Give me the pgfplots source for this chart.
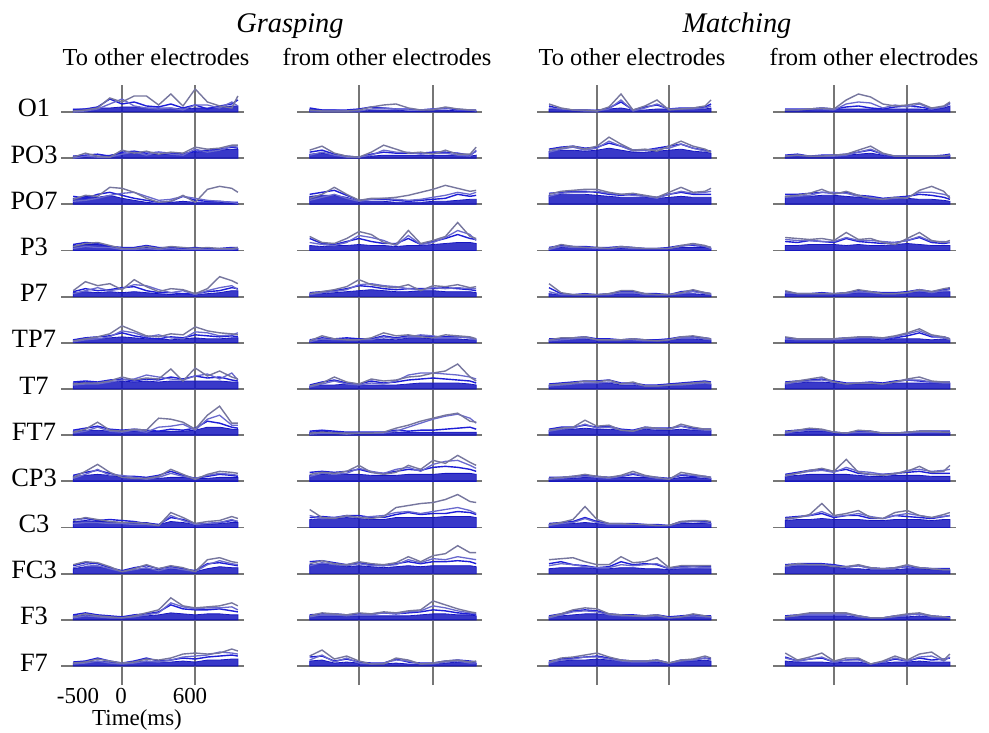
\documentclass[border=0pt]{standalone}
\usepackage{fontspec}
\setmainfont{Liberation Serif}
\usepackage{pgfplots}
\usepackage{pgfplotstable}
\pgfplotsset{compat=1.18}
\definecolor{dblue}{RGB}{22,22,192}
\definecolor{mblue}{RGB}{30,30,215}
\definecolor{gblue}{RGB}{118,118,158}
\definecolor{lblue}{RGB}{105,105,205}
\definecolor{gridgray}{RGB}{118,118,118}
\pgfplotsset{
  panel/.style={scale only axis, height=46.17bp, xmin=-500, xmax=1000,
    ymin=-23.085, ymax=23.085, anchor=origin,
    axis line style={draw=none}, xtick={0,600}, xticklabels={}, ytick=\empty,
    major tick length=0pt, xmajorgrids,
    extra y ticks={0}, extra y tick labels={}, extra y tick style={grid=major, major tick length=0pt},
    grid style={draw=gridgray, line width=1.9bp}, clip=false, no markers},
  rowtop/.style={ymax=27, height=50.085bp},
  rowmid/.style={},
  rowbot/.style={ymin=-19, height=42.085bp},
  areaS/.style={fill=dblue, draw=dblue, line width=0.8bp, fill opacity=0.85},
  lineB/.style={draw=mblue, line width=1.4bp},
  lineD/.style={draw=lblue, line width=1.3bp},
  lineC/.style={draw=gblue, line width=1.4bp},
}
\newcommand\panel[5]{%
\begin{axis}[panel,at={(#1bp,#2bp)},width=#3bp,#5]
\addplot[areaS] table[x=t,y=a]{#4}\closedcycle;
\addplot[lineB] table[x=t,y=b]{#4};
\addplot[lineD] table[x=t,y=d]{#4};
\addplot[lineC] table[x=t,y=c]{#4};
\end{axis}}
% ---------------- Grasping: to other electrodes ----------------
\pgfplotstableread{
t a b c d
-400 3 2 1 0
-300 3 3 2 1
-200 4 5 4 3
-100 4 13 14 8
0 5 8 10 13
100 5 10 16 6
200 4 6 16 4
300 4 5 7 3
400 4 8 18 4
500 3 4 6 2
600 4 7 23 7
700 4 3 10 7
800 5 6 6 4
900 6 8 4 10
950 6 12 16 6
}\tAa
\pgfplotstableread{
t a b c d
-400 2 2 1 0
-300 2 3 5 2
-200 2 4 2 1
-100 3 2 1 1
0 5 6 8 4
100 5 7 5 6
200 4 5 7 3
300 4 6 4 6
400 4 5 6 4
500 5 4 5 3
600 6 7 11 9
700 7 8 9 6
800 8 9 10 8
900 9 11 13 12
950 9 10 13 11
}\tAb
\pgfplotstableread{
t a b c d
-400 6 8 5 3
-300 8 6 9 4
-200 7 10 8 6
-100 9 12 17 9
0 6 9 16 11
100 4 6 12 12
200 2 4 6 8
300 1 2 2 4
400 2 3 3 5
500 3 8 9 8
600 2 4 2 6
700 2 3 15 4
800 2 3 18 3
900 1 2 16 2
950 1 2 12 1
}\tAc
\pgfplotstableread{
t a b c d
-400 5 6 4 2
-300 6 8 7 4
-200 6 7 8 3
-100 4 4 5 3
0 3 3 2 1
100 2 3 2 1
200 3 5 4 2
300 2 3 2 1
400 3 3 4 2
500 2 2 3 1
600 2 3 2 1
700 2 2 3 1
800 2 2 2 1
900 2 3 2 1
950 2 3 3 2
}\tAd
\pgfplotstableread{
t a b c d
-400 4 5 6 3
-300 5 8 15 6
-200 4 6 11 9
-100 5 7 13 6
0 4 9 7 8
100 5 10 17 12
200 4 6 10 11
300 3 4 5 7
400 2 4 8 4
500 3 3 7 6
600 2 3 3 2
700 3 5 8 6
800 4 6 20 9
900 6 9 16 11
950 6 8 13 7
}\tAe
\pgfplotstableread{
t a b c d
-400 3 3 2 1
-300 4 5 4 3
-200 4 6 6 4
-100 5 7 9 6
0 6 10 17 12
100 5 7 12 10
200 4 5 7 6
300 4 4 6 8
400 3 6 9 5
500 4 5 8 4
600 5 8 16 11
700 4 7 12 10
800 4 6 10 7
900 5 7 9 8
950 5 6 8 10
}\tAf
\pgfplotstableread{
t a b c d
-400 6 7 5 4
-300 7 8 6 5
-200 6 7 6 5
-100 7 9 8 7
0 8 10 12 9
100 7 8 9 10
200 8 10 11 14
300 7 9 10 12
400 8 12 20 10
500 8 10 8 9
600 8 13 21 13
700 8 11 13 15
800 8 12 18 10
900 7 9 12 16
950 7 8 10 9
}\tAg
\pgfplotstableread{
t a b c d
-400 4 5 3 2
-300 5 7 6 4
-200 5 9 13 8
-100 4 6 5 4
0 4 5 4 3
100 4 6 6 5
200 4 5 5 3
300 4 4 17 8
400 4 6 16 9
500 4 5 13 11
600 5 7 6 5
700 8 14 20 16
800 8 12 29 20
900 6 8 12 10
950 6 7 12 10
}\tAh
\pgfplotstableread{
t a b c d
-400 5 6 4 3
-300 6 9 10 7
-200 7 11 17 12
-100 6 8 9 6
0 4 5 4 6
100 3 5 3 4
200 3 4 3 2
300 3 6 5 4
400 4 10 12 8
500 4 6 7 5
600 3 3 2 3
700 3 5 7 6
800 4 7 10 8
900 4 6 9 7
950 4 5 8 6
}\tAi
\pgfplotstableread{
t a b c d
-400 6 8 7 4
-300 7 9 10 5
-200 6 7 8 5
-100 6 8 6 4
0 5 7 5 4
100 5 6 5 3
200 5 4 4 3
300 3 3 2 2
400 6 10 15 12
500 5 8 10 7
600 3 4 4 3
700 3 4 6 4
800 4 5 7 5
900 5 7 11 8
950 5 6 9 6
}\tAj
\pgfplotstableread{
t a b c d
-400 5 8 9 6
-300 7 11 12 9
-200 7 10 11 8
-100 5 6 7 5
0 3 3 2 2
100 4 6 5 4
200 5 8 9 6
300 4 5 5 3
400 5 7 8 6
500 4 5 6 4
600 2 3 2 2
700 5 10 14 9
800 7 11 16 13
900 6 9 12 10
950 6 8 11 9
}\tAk
\pgfplotstableread{
t a b c d
-400 4 5 3 2
-300 5 7 6 4
-200 4 5 4 3
-100 3 4 3 2
0 3 3 2 2
100 4 5 4 3
200 4 6 7 5
300 5 8 10 7
400 7 15 22 17
500 6 11 14 13
600 5 10 12 11
700 6 10 13 12
800 6 11 14 12
900 5 9 17 13
950 5 8 14 10
}\tAl
\pgfplotstableread{
t a b c d
-400 3 4 3 2
-300 4 5 4 3
-200 5 8 7 5
-100 4 5 5 3
0 3 3 3 2
100 4 5 4 3
200 5 8 7 5
300 4 5 6 4
400 4 6 8 6
500 5 8 12 9
600 4 7 13 10
700 6 9 12 11
800 6 10 13 14
900 7 11 17 13
950 7 10 15 12
}\tAm
% ---------------- Grasping: from other electrodes ----------------
\pgfplotstableread{
t a b c d
-400 3 4 2 1
-300 2 2 1 1
-200 2 2 1 1
-100 1 2 1 1
0 1 3 2 1
100 2 5 5 3
200 2 4 7 4
300 2 3 8 3
400 1 3 4 2
500 1 2 2 2
600 2 3 2 3
700 2 4 5 4
800 1 2 3 3
900 1 2 2 2
950 1 2 2 1
}\tBa
\pgfplotstableread{
t a b c d
-400 4 6 8 3
-300 5 8 12 6
-200 3 4 5 3
-100 1 2 2 1
0 1 1 1 1
100 2 4 6 3
200 3 6 13 8
300 3 5 9 6
400 3 5 5 6
500 3 5 6 4
600 3 6 4 5
700 3 6 8 5
800 3 5 4 3
900 2 3 4 2
950 3 7 11 8
}\tBb
\pgfplotstableread{
t a b c d
-400 8 10 6 4
-300 9 12 10 7
-200 9 14 17 10
-100 7 9 10 6
0 3 4 4 3
100 3 5 6 5
200 3 5 6 6
300 2 4 7 5
400 2 3 9 4
500 2 4 12 5
600 3 5 15 7
700 3 6 19 9
800 4 10 16 12
900 5 8 13 10
950 5 9 14 12
}\tBc
\pgfplotstableread{
t a b c d
-400 5 12 14 8
-300 4 7 8 6
-200 5 6 7 5
-100 5 9 12 8
0 6 12 19 15
100 5 9 16 13
200 5 7 8 10
300 4 7 6 5
400 5 12 20 15
500 5 6 7 6
600 6 9 10 8
700 7 12 14 13
800 8 16 28 20
900 8 12 14 16
950 7 11 12 10
}\tBd
\pgfplotstableread{
t a b c d
-400 3 4 3 2
-300 3 5 5 4
-200 4 6 7 5
-100 5 8 10 7
0 6 11 17 12
100 7 10 12 13
200 6 8 10 11
300 5 7 9 10
400 5 8 12 8
500 6 8 6 7
600 6 8 11 9
700 5 9 10 8
800 5 8 12 9
900 5 7 9 8
950 4 6 10 8
}\tBe
\pgfplotstableread{
t a b c d
-400 2 3 2 1
-300 3 5 7 4
-200 3 4 4 3
-100 4 5 3 3
0 3 4 3 3
100 3 4 5 3
200 4 7 10 6
300 3 5 7 4
400 5 7 8 6
500 5 7 6 8
600 4 6 5 7
700 4 6 8 5
800 4 6 7 6
900 3 5 6 5
950 3 4 4 3
}\tBf
\pgfplotstableread{
t a b c d
-400 3 4 3 2
-300 4 7 6 5
-200 4 9 12 8
-100 5 6 7 5
0 4 5 5 4
100 4 8 10 6
200 4 6 8 5
300 4 7 9 8
400 5 9 12 14
500 6 10 13 16
600 6 11 16 16
700 6 10 18 15
800 6 9 25 14
900 5 8 12 12
950 4 6 8 10
}\tBg
\pgfplotstableread{
t a b c d
-400 3 4 2 1
-300 4 5 3 2
-200 3 4 2 2
-100 2 3 2 1
0 2 3 2 2
100 2 3 2 2
200 2 3 3 2
300 3 5 7 4
400 3 4 10 8
500 3 5 14 12
600 3 5 17 16
700 3 6 20 19
800 3 7 22 21
900 3 8 14 17
950 3 6 13 12
}\tBh
\pgfplotstableread{
t a b c d
-400 6 9 7 5
-300 7 10 9 8
-200 7 9 8 7
-100 7 10 10 8
0 7 12 16 13
100 6 9 9 10
200 6 8 7 8
300 6 10 9 12
400 7 12 16 14
500 7 11 12 10
600 7 14 21 17
700 8 15 18 20
800 8 14 26 21
900 8 12 19 16
950 7 10 16 13
}\tBi
\pgfplotstableread{
t a b c d
-400 8 10 18 12
-300 9 11 10 9
-200 9 10 9 10
-100 10 12 12 11
0 9 12 10 10
100 8 10 9 11
200 8 10 11 12
300 10 13 20 15
400 10 15 22 16
500 10 13 24 14
600 10 14 25 16
700 11 14 28 18
800 11 16 33 20
900 11 15 26 17
950 10 13 25 14
}\tBj
\pgfplotstableread{
t a b c d
-400 9 12 10 8
-300 10 13 13 11
-200 9 11 10 9
-100 7 9 9 8
0 8 11 12 10
100 7 9 10 8
200 6 8 9 8
300 7 10 11 9
400 8 12 17 14
500 7 10 12 11
600 8 12 18 15
700 8 12 20 14
800 8 13 28 17
900 8 12 21 15
950 7 10 21 14
}\tBk
\pgfplotstableread{
t a b c d
-400 4 5 4 3
-300 4 6 7 5
-200 4 6 6 5
-100 4 5 5 4
0 4 6 7 5
100 4 6 6 5
200 4 7 8 7
300 4 6 7 6
400 4 7 9 8
500 5 8 10 9
600 6 10 19 14
700 6 9 15 12
800 5 7 11 9
900 5 6 8 7
950 4 5 7 6
}\tBl
\pgfplotstableread{
t a b c d
-400 5 9 10 6
-300 6 10 16 11
-200 3 5 7 4
-100 4 7 10 8
0 3 4 5 3
100 2 3 2 2
200 2 3 2 3
300 3 7 8 6
400 2 4 6 5
500 2 3 2 2
600 2 3 3 2
700 3 5 5 4
800 4 6 6 5
900 4 5 4 3
950 3 4 5 3
}\tBm
% ---------------- Matching: to other electrodes ----------------
\pgfplotstableread{
t a b c d
-400 3 6 8 4
-300 3 3 4 3
-200 2 2 2 2
-100 2 2 2 1
0 2 1 1 1
100 3 4 5 3
200 4 10 18 12
300 2 2 2 1
400 2 5 6 4
500 3 7 12 8
600 3 3 2 3
700 3 4 3 3
800 3 4 4 3
900 3 5 6 4
950 4 8 12 6
}\tCa
\pgfplotstableread{
t a b c d
-400 7 9 8 6
-300 8 11 10 9
-200 8 12 12 11
-100 7 10 9 8
0 8 11 12 10
100 10 15 21 17
200 8 12 14 12
300 6 8 8 7
400 6 8 9 8
500 7 10 7 9
600 8 12 12 10
700 9 14 17 14
800 7 10 12 10
900 6 8 9 7
950 5 7 6 6
}\tCb
\pgfplotstableread{
t a b c d
-400 9 11 10 8
-300 10 12 13 11
-200 10 13 14 12
-100 10 13 15 12
0 9 12 15 13
100 8 10 12 11
200 7 9 10 10
300 7 10 11 9
400 7 8 9 8
500 6 7 7 6
600 7 10 12 10
700 8 12 17 13
800 7 10 12 11
900 7 10 13 12
950 7 10 16 13
}\tCc
\pgfplotstableread{
t a b c d
-400 2 3 2 1
-300 3 5 6 4
-200 3 4 4 3
-100 3 4 3 3
0 3 3 3 2
100 2 3 2 2
200 2 4 4 3
300 2 3 3 2
400 2 2 2 2
500 2 2 2 2
600 2 3 2 2
700 3 5 5 4
800 3 5 7 6
900 3 4 5 4
950 2 3 3 2
}\tCd
\pgfplotstableread{
t a b c d
-400 3 9 13 5
-300 2 3 4 2
-200 2 2 2 2
-100 2 3 2 2
0 2 2 2 2
100 2 3 3 2
200 3 5 6 4
300 3 5 6 4
400 2 3 3 2
500 2 3 2 2
600 2 2 2 2
700 3 5 4 3
800 3 6 7 5
900 2 4 4 3
950 2 3 3 2
}\tCe
\pgfplotstableread{
t a b c d
-400 3 4 3 2
-300 3 4 5 3
-200 4 5 5 4
-100 4 6 6 5
0 3 4 3 3
100 3 4 3 3
200 3 3 3 3
300 3 4 4 3
400 3 3 3 2
500 2 3 2 2
600 3 4 3 3
700 4 6 6 5
800 4 6 7 5
900 3 5 5 4
950 3 4 4 3
}\tCf
\pgfplotstableread{
t a b c d
-400 4 5 4 3
-300 5 6 5 4
-200 5 7 6 5
-100 6 8 8 6
0 6 8 7 6
100 6 9 9 7
200 4 6 5 5
300 4 6 7 5
400 3 4 3 3
500 3 4 3 3
600 4 5 4 4
700 5 6 5 4
800 5 7 6 5
900 6 8 7 6
950 5 7 6 5
}\tCg
\pgfplotstableread{
t a b c d
-400 5 6 5 4
-300 6 8 7 6
-200 6 8 8 7
-100 7 10 15 11
0 6 8 9 7
100 6 9 10 8
200 5 6 5 5
300 4 5 4 4
400 6 8 8 7
500 5 7 7 6
600 5 7 6 6
700 6 9 11 9
800 5 7 8 6
900 5 6 6 5
950 5 6 6 5
}\tCh
\pgfplotstableread{
t a b c d
-400 3 4 3 2
-300 3 4 4 3
-200 3 5 5 4
-100 4 6 7 5
0 4 5 5 4
100 3 4 4 3
200 4 5 6 5
300 4 7 10 8
400 4 5 6 5
500 3 4 4 3
600 2 3 2 2
700 4 6 9 7
800 4 5 7 6
900 3 5 5 4
950 3 4 4 3
}\tCi
\pgfplotstableread{
t a b c d
-400 3 4 3 2
-300 4 5 5 4
-200 4 6 8 5
-100 5 10 21 9
0 4 6 8 5
100 3 4 4 3
200 3 4 4 3
300 3 4 3 3
400 3 3 3 3
500 2 3 2 2
600 2 2 2 2
700 4 6 6 5
800 4 6 7 6
900 4 6 7 5
950 4 5 6 4
}\tCj
\pgfplotstableread{
t a b c d
-400 5 10 14 8
-300 6 12 15 10
-200 6 9 16 9
-100 6 8 12 7
0 5 6 9 6
100 5 7 9 6
200 6 12 17 9
300 6 9 11 8
400 5 10 12 9
500 5 9 16 10
600 4 5 6 5
700 5 7 8 6
800 5 7 8 7
900 5 7 8 6
950 5 7 8 6
}\tCk
\pgfplotstableread{
t a b c d
-400 3 4 3 2
-300 4 6 6 5
-200 5 9 10 8
-100 6 10 12 9
0 6 9 11 8
100 5 6 6 5
200 4 5 5 4
300 4 5 4 4
400 3 4 4 3
500 4 5 5 4
600 3 3 2 2
700 3 4 3 3
800 4 5 6 4
900 3 4 4 3
950 3 4 3 3
}\tCl
\pgfplotstableread{
t a b c d
-400 4 5 4 3
-300 5 7 8 6
-200 6 8 9 7
-100 6 9 11 9
0 7 10 13 9
100 6 8 9 7
200 5 6 6 5
300 4 5 5 4
400 4 5 5 4
500 4 6 6 5
600 3 3 3 3
700 5 6 6 5
800 5 6 7 6
900 6 8 10 8
950 5 7 8 6
}\tCm
% ---------------- Matching: from other electrodes ----------------
\pgfplotstableread{
t a b c d
-400 2 3 2 2
-300 2 3 2 2
-200 2 3 3 3
-100 3 4 4 3
0 3 3 3 2
100 3 5 12 8
200 3 6 18 10
300 3 4 15 9
400 3 3 8 4
500 3 5 6 7
600 3 6 7 5
700 3 5 9 8
800 2 3 4 3
900 4 5 6 5
950 6 9 10 8
}\tDa
\pgfplotstableread{
t a b c d
-400 2 3 2 2
-300 3 4 3 3
-200 2 2 2 2
-100 2 3 2 2
0 3 3 3 2
100 3 4 4 3
200 4 6 8 6
300 5 8 12 9
400 3 4 5 4
500 2 2 2 2
600 2 2 2 2
700 2 2 2 2
800 2 2 2 2
900 2 3 2 2
950 3 4 3 3
}\tDb
\pgfplotstableread{
t a b c d
-400 8 10 8 7
-300 8 10 9 8
-200 8 11 11 9
-100 9 12 15 12
0 9 11 10 12
100 8 12 13 11
200 7 9 9 8
300 6 8 6 7
400 5 6 5 5
500 6 7 7 6
600 6 8 6 7
700 5 10 14 12
800 5 9 18 12
900 4 7 13 10
950 3 5 6 8
}\tDc
\pgfplotstableread{
t a b c d
-400 5 9 13 11
-300 5 8 12 10
-200 6 10 11 10
-100 6 9 12 9
0 6 8 10 9
100 5 12 18 13
200 6 9 11 10
300 5 8 12 10
400 5 7 8 9
500 6 8 6 8
600 7 10 12 10
700 6 13 18 14
800 5 8 10 9
900 5 7 8 9
950 5 8 10 8
}\tDd
\pgfplotstableread{
t a b c d
-400 3 5 6 4
-300 3 3 3 3
-200 3 3 3 3
-100 3 4 3 3
0 3 3 3 3
100 3 4 4 3
200 4 6 7 5
300 4 5 5 4
400 3 4 3 3
500 3 4 3 3
600 4 5 4 4
700 5 7 7 6
800 4 5 5 4
900 5 7 8 6
950 5 8 9 7
}\tDe
\pgfplotstableread{
t a b c d
-400 3 5 6 4
-300 3 4 4 3
-200 3 4 4 3
-100 3 4 4 3
0 3 4 4 3
100 4 5 5 4
200 4 5 6 5
300 4 5 6 5
400 3 4 5 4
500 4 5 7 6
600 4 7 10 9
700 4 10 14 12
800 3 6 8 7
900 4 6 6 5
950 3 4 4 3
}\tDf
\pgfplotstableread{
t a b c d
-400 6 7 6 5
-300 6 8 8 7
-200 7 9 10 8
-100 7 10 12 9
0 6 8 7 7
100 5 6 5 5
200 5 6 6 6
300 5 7 6 6
400 5 6 5 5
500 6 8 7 7
600 6 9 10 9
700 6 8 12 9
800 6 7 8 7
900 6 7 7 6
950 6 7 7 6
}\tDg
\pgfplotstableread{
t a b c d
-400 3 4 3 2
-300 3 5 5 4
-200 4 6 7 5
-100 4 5 6 5
0 3 3 3 3
100 2 2 2 2
200 3 4 5 3
300 3 4 4 3
400 2 2 2 2
500 2 2 2 2
600 2 3 3 2
700 3 4 4 3
800 3 4 4 3
900 3 4 3 3
950 3 4 3 3
}\tDh
\pgfplotstableread{
t a b c d
-400 5 7 6 5
-300 6 9 8 8
-200 7 11 11 10
-100 7 12 13 11
0 7 10 10 9
100 7 12 22 14
200 6 8 9 10
300 5 7 7 9
400 5 7 6 7
500 6 8 8 7
600 6 9 10 11
700 6 10 15 12
800 5 8 9 10
900 5 8 10 11
950 5 8 16 12
}\tDi
\pgfplotstableread{
t a b c d
-400 7 10 9 8
-300 8 11 10 10
-200 8 12 13 12
-100 9 14 24 16
0 8 10 12 11
100 8 12 14 12
200 8 12 17 14
300 7 9 10 11
400 7 9 9 9
500 8 12 15 12
600 8 11 17 14
700 8 10 12 12
800 7 9 10 10
900 8 11 13 11
950 8 12 15 12
}\tDj
\pgfplotstableread{
t a b c d
-400 7 9 8 7
-300 8 10 10 9
-200 8 10 9 9
-100 8 10 9 9
0 7 9 7 8
100 5 7 7 6
200 5 8 9 8
300 4 6 6 5
400 4 5 5 5
500 4 6 6 5
600 5 7 9 8
700 5 6 6 6
800 4 5 5 5
900 4 5 4 4
950 4 5 4 4
}\tDk
\pgfplotstableread{
t a b c d
-400 3 4 3 3
-300 4 5 5 4
-200 4 6 7 6
-100 4 6 7 6
0 4 6 7 6
100 4 6 7 6
200 3 4 4 3
300 2 2 2 2
400 2 2 2 2
500 3 4 4 3
600 3 5 6 5
700 4 6 7 6
800 3 4 4 3
900 3 3 3 3
950 3 3 2 2
}\tDl
\pgfplotstableread{
t a b c d
-400 5 9 13 8
-300 4 5 6 5
-200 4 7 9 7
-100 4 8 13 9
0 3 4 5 4
100 4 6 8 6
200 4 7 8 6
300 2 2 2 2
400 3 4 5 4
500 4 7 10 8
600 4 5 6 5
700 5 8 12 9
800 4 6 14 10
900 4 7 6 5
950 4 8 12 9
}\tDm
\newcommand\fA{\fontsize{24.5}{28}\selectfont}
\newcommand\fK{\fontsize{23}{26}\selectfont}
\newcommand\fT{\fontsize{28.5}{32}\selectfont\itshape}
\newcommand\fR{\fontsize{26.5}{30}\selectfont}
\begin{document}
\begin{tikzpicture}[x=1bp,y=1bp]
\path[use as bounding box] (0,0) rectangle (989,733);
% column A
\panel{122}{621}{183}{\tAa}{rowtop}
\panel{122}{574.83}{183}{\tAb}{rowmid}
\panel{122}{528.66}{183}{\tAc}{rowmid}
\panel{122}{482.49}{183}{\tAd}{rowmid}
\panel{122}{436.32}{183}{\tAe}{rowmid}
\panel{122}{390.15}{183}{\tAf}{rowmid}
\panel{122}{343.98}{183}{\tAg}{rowmid}
\panel{122}{297.81}{183}{\tAh}{rowmid}
\panel{122}{251.64}{183}{\tAi}{rowmid}
\panel{122}{205.47}{183}{\tAj}{rowmid}
\panel{122}{159.3}{183}{\tAk}{rowmid}
\panel{122}{113.13}{183}{\tAl}{rowmid}
\panel{122}{66.96}{183}{\tAm}{rowbot}
% column B
\panel{359}{621}{185}{\tBa}{rowtop}
\panel{359}{574.83}{185}{\tBb}{rowmid}
\panel{359}{528.66}{185}{\tBc}{rowmid}
\panel{359}{482.49}{185}{\tBd}{rowmid}
\panel{359}{436.32}{185}{\tBe}{rowmid}
\panel{359}{390.15}{185}{\tBf}{rowmid}
\panel{359}{343.98}{185}{\tBg}{rowmid}
\panel{359}{297.81}{185}{\tBh}{rowmid}
\panel{359}{251.64}{185}{\tBi}{rowmid}
\panel{359}{205.47}{185}{\tBj}{rowmid}
\panel{359}{159.3}{185}{\tBk}{rowmid}
\panel{359}{113.13}{185}{\tBl}{rowmid}
\panel{359}{66.96}{185}{\tBm}{rowbot}
% column C
\panel{597}{621}{180}{\tCa}{rowtop}
\panel{597}{574.83}{180}{\tCb}{rowmid}
\panel{597}{528.66}{180}{\tCc}{rowmid}
\panel{597}{482.49}{180}{\tCd}{rowmid}
\panel{597}{436.32}{180}{\tCe}{rowmid}
\panel{597}{390.15}{180}{\tCf}{rowmid}
\panel{597}{343.98}{180}{\tCg}{rowmid}
\panel{597}{297.81}{180}{\tCh}{rowmid}
\panel{597}{251.64}{180}{\tCi}{rowmid}
\panel{597}{205.47}{180}{\tCj}{rowmid}
\panel{597}{159.3}{180}{\tCk}{rowmid}
\panel{597}{113.13}{180}{\tCl}{rowmid}
\panel{597}{66.96}{180}{\tCm}{rowbot}
% column D
\panel{834}{621}{183}{\tDa}{rowtop}
\panel{834}{574.83}{183}{\tDb}{rowmid}
\panel{834}{528.66}{183}{\tDc}{rowmid}
\panel{834}{482.49}{183}{\tDd}{rowmid}
\panel{834}{436.32}{183}{\tDe}{rowmid}
\panel{834}{390.15}{183}{\tDf}{rowmid}
\panel{834}{343.98}{183}{\tDg}{rowmid}
\panel{834}{297.81}{183}{\tDh}{rowmid}
\panel{834}{251.64}{183}{\tDi}{rowmid}
\panel{834}{205.47}{183}{\tDj}{rowmid}
\panel{834}{159.3}{183}{\tDk}{rowmid}
\panel{834}{113.13}{183}{\tDl}{rowmid}
\panel{834}{66.96}{183}{\tDm}{rowbot}
% titles
\node[anchor=base, inner sep=0, font=\fT] at (290,700) {Grasping};
\node[anchor=base, inner sep=0, font=\fT] at (737,700) {Matching};
\node[anchor=base, inner sep=0, font=\fA] at (156,667) {To other electrodes};
\node[anchor=base, inner sep=0, font=\fA] at (387,667) {from other electrodes};
\node[anchor=base, inner sep=0, font=\fA] at (632,667) {To other electrodes};
\node[anchor=base, inner sep=0, font=\fA] at (874,667) {from other electrodes};
% row labels
\node[anchor=base, inner sep=0, font=\fR] at (34,616) {O1};
\node[anchor=base, inner sep=0, font=\fR] at (34,569.83) {PO3};
\node[anchor=base, inner sep=0, font=\fR] at (34,523.66) {PO7};
\node[anchor=base, inner sep=0, font=\fR] at (34,477.49) {P3};
\node[anchor=base, inner sep=0, font=\fR] at (34,431.32) {P7};
\node[anchor=base, inner sep=0, font=\fR] at (34,385.15) {TP7};
\node[anchor=base, inner sep=0, font=\fR] at (34,338.98) {T7};
\node[anchor=base, inner sep=0, font=\fR] at (34,292.81) {FT7};
\node[anchor=base, inner sep=0, font=\fR] at (34,246.64) {CP3};
\node[anchor=base, inner sep=0, font=\fR] at (34,200.47) {C3};
\node[anchor=base, inner sep=0, font=\fR] at (34,154.3) {FC3};
\node[anchor=base, inner sep=0, font=\fR] at (34,108.13) {F3};
\node[anchor=base, inner sep=0, font=\fR] at (34,61.96) {F7};
% time axis labels
\node[anchor=base, inner sep=0, font=\fK] at (78,29) {-500};
\node[anchor=base, inner sep=0, font=\fK] at (121,29) {0};
\node[anchor=base, inner sep=0, font=\fK] at (190,29) {600};
\node[anchor=base, inner sep=0, font=\fK] at (137,7) {Time(ms)};
\end{tikzpicture}
\end{document}
